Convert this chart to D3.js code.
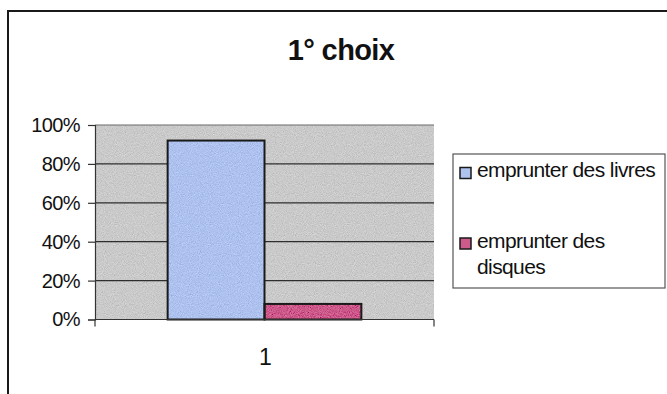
<!DOCTYPE html>
<html>
<head>
<meta charset="utf-8">
<script src="https://cdn.jsdelivr.net/npm/d3@7/dist/d3.min.js"></script>
<style>
  html, body { margin: 0; padding: 0; background: #fff; }
  svg { display: block; font-family: "Liberation Sans", Arial, sans-serif; }
</style>
</head>
<body>
<svg id="chart" width="667" height="394"></svg>
<script>
// Chart data
const categories = ["1"];
const seriesNames = ["emprunter des livres", "emprunter des disques"];
const seriesValues = [[0.92], [0.08]];
const yTicks = [0, 0.2, 0.4, 0.6, 0.8, 1.0];
const chartTitle = "1° choix";
const legendLines = [["emprunter des livres"], ["emprunter des", "disques"]];
const seriesColors = ["#aec2ee", "#cc5a8a"];

const svg = d3.select("#chart");

// Grain used for the textured fills
const defs = svg.append("defs");
const grain = defs.append("filter").attr("id", "grain")
  .attr("x", 0).attr("y", 0).attr("width", 1).attr("height", 1);
grain.append("feTurbulence").attr("type", "fractalNoise")
  .attr("baseFrequency", 1.1).attr("numOctaves", 1).attr("seed", 4).attr("result", "t");
grain.append("feColorMatrix").attr("in", "t").attr("type", "matrix")
  .attr("values", "0.33 0.33 0.33 0 0  0.33 0.33 0.33 0 0  0.33 0.33 0.33 0 0  0 0 0 0 1")
  .attr("result", "g");
grain.append("feComposite").attr("in", "SourceGraphic").attr("in2", "g")
  .attr("operator", "arithmetic").attr("k1", 0).attr("k2", 1).attr("k3", 0.6).attr("k4", -0.3)
  .attr("result", "c");
grain.append("feComposite").attr("in", "c").attr("in2", "SourceGraphic").attr("operator", "in");

// Outer chart frame
svg.append("rect")
  .attr("x", 8).attr("y", 11).attr("width", 720).attr("height", 420)
  .attr("fill", "none").attr("stroke", "#1a1a1a").attr("stroke-width", 2);

// Title
svg.append("text")
  .attr("x", 341).attr("y", 60)
  .attr("text-anchor", "middle")
  .attr("font-size", 29).attr("font-weight", "bold")
  .attr("letter-spacing", -0.6)
  .attr("fill", "#111")
  .text(chartTitle);

// Plot area
const plot = { left: 95, right: 434, top: 125, bottom: 319.5 };

const y = d3.scaleLinear().domain([0, 1]).range([plot.bottom, plot.top]);
const x0 = d3.scaleBand().domain(categories).range([plot.left, plot.right]).padding(0);
const x1 = d3.scaleBand().domain(seriesNames).range([0, x0.bandwidth()])
  .paddingInner(0).paddingOuter(0.75);

svg.append("rect")
  .attr("x", plot.left).attr("y", plot.top)
  .attr("width", plot.right - plot.left).attr("height", plot.bottom - plot.top)
  .attr("fill", "#cacaca").attr("filter", "url(#grain)");

// Horizontal gridlines
svg.append("g").selectAll("line")
  .data(yTicks.filter(d => d > 0))
  .join("line")
  .attr("x1", plot.left).attr("x2", plot.right)
  .attr("y1", d => y(d)).attr("y2", d => y(d))
  .attr("stroke", d => d === 1 ? "#6a6a6a" : "#2e2e2e")
  .attr("stroke-width", 1.2);

// Bars
const barData = (c, ci) => seriesNames.map((s, si) => ({ s, si, v: seriesValues[si][ci] }));
const groups = svg.append("g").selectAll("g")
  .data(categories)
  .join("g")
  .attr("transform", d => `translate(${x0(d)},0)`);

groups.selectAll("rect.fill")
  .data(barData)
  .join("rect")
  .attr("class", "fill")
  .attr("x", d => x1(d.s))
  .attr("y", d => y(d.v))
  .attr("width", x1.bandwidth())
  .attr("height", d => y(0) - y(d.v))
  .attr("fill", d => seriesColors[d.si])
  .attr("filter", "url(#grain)");

groups.selectAll("rect.outline")
  .data(barData)
  .join("rect")
  .attr("class", "outline")
  .attr("x", d => x1(d.s))
  .attr("y", d => y(d.v))
  .attr("width", x1.bandwidth())
  .attr("height", d => y(0) - y(d.v))
  .attr("fill", "none")
  .attr("stroke", "#1a1a1a").attr("stroke-width", 2);

// Y axis
const yAxis = d3.axisLeft(y).tickValues(yTicks)
  .tickFormat(d3.format(".0%")).tickSize(7).tickPadding(8);
const gy = svg.append("g").attr("transform", `translate(${plot.left},0)`).call(yAxis);
gy.select(".domain").attr("stroke", "#333").attr("stroke-width", 1.2);
gy.selectAll(".tick line").attr("stroke", "#333").attr("stroke-width", 1.2);
gy.selectAll(".tick text")
  .attr("font-size", 20).attr("font-family", "Liberation Sans, Arial, sans-serif")
  .attr("fill", "#111").attr("letter-spacing", -0.6);

// X axis: category boundary ticks and label
const gx = svg.append("g").attr("transform", `translate(0,${plot.bottom})`);
gx.append("line")
  .attr("x1", plot.left).attr("x2", plot.right)
  .attr("stroke", "#333").attr("stroke-width", 1.2);
const edges = [x0.range()[0], ...categories.map(c => x0(c) + x0.bandwidth())];
gx.selectAll("line.edge").data(edges).join("line")
  .attr("class", "edge")
  .attr("x1", d => d).attr("x2", d => d).attr("y1", 0).attr("y2", 7)
  .attr("stroke", "#333").attr("stroke-width", 1.2);
gx.selectAll("text").data(categories).join("text")
  .attr("x", d => x0(d) + x0.bandwidth() / 2 + 1)
  .attr("y", 45)
  .attr("text-anchor", "middle")
  .attr("font-size", 23).attr("fill", "#111")
  .text(d => d);

// Legend
const legend = svg.append("g");
legend.append("rect")
  .attr("x", 453).attr("y", 154).attr("width", 212).attr("height", 134)
  .attr("fill", "#fff").attr("stroke", "#555").attr("stroke-width", 1.2);

const legendRows = [177, 247.5];
const items = legend.selectAll("g.item")
  .data(seriesNames)
  .join("g").attr("class", "item")
  .attr("transform", (d, i) => `translate(0,${legendRows[i]})`);

items.append("rect")
  .attr("x", 460).attr("y", -9.5).attr("width", 11).attr("height", 11)
  .attr("fill", (d, i) => seriesColors[i])
  .attr("stroke", "#1a1a1a").attr("stroke-width", 1.5);

items.append("text")
  .attr("x", 477).attr("y", 0)
  .attr("font-size", 21).attr("fill", "#111").attr("letter-spacing", -0.6)
  .selectAll("tspan")
  .data((d, i) => legendLines[i])
  .join("tspan")
  .attr("x", 477)
  .attr("dy", (d, j) => j === 0 ? 0 : 26)
  .text(d => d);
</script>
</body>
</html>
